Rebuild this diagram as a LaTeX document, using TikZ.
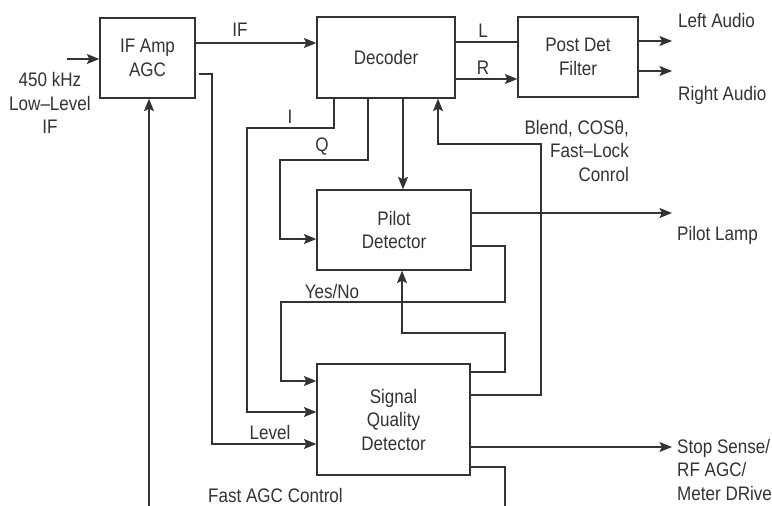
\documentclass[tikz,border=0pt]{standalone}
\usepackage{fontspec}
\setmainfont{Liberation Sans}[FakeStretch=0.87]
\usetikzlibrary{arrows.meta,calc}
\definecolor{ink}{HTML}{333333}
\begin{document}
\begin{tikzpicture}[x=1pt,y=-1pt,
  every node/.style={font=\fontsize{19.6}{23.5}\selectfont, text=ink},
  blk/.style={draw=ink, line width=1.3pt, align=center, inner sep=0pt},
  wire/.style={draw=ink, line width=1.3pt},
  arr/.style={wire, -{Stealth[length=12.5pt,width=10pt,inset=2.5pt]}},
  lbl/.style={inner sep=0pt, align=center}]
\useasboundingbox (0,0) rectangle (772,506);
\fill[white] (0,0) rectangle (772,506);

% blocks
\node[blk, minimum width=95pt, minimum height=80pt] (ifamp) at (147.5,58) {IF Amp\\AGC};
\node[blk, minimum width=138pt, minimum height=81pt] (dec) at (386,57.5) {Decoder};
\node[blk, minimum width=120pt, minimum height=80pt] (pdf) at (578,57) {Post Det\\Filter};
\node[blk, minimum width=154pt, minimum height=80pt] (pilot) at (394,230) {Pilot\\Detector};
\node[blk, minimum width=153pt, minimum height=111pt] (sqd) at (393.5,419.5) {Signal\\Quality\\Detector};

% free ends
\coordinate (inp) at (67,59);
\coordinate (agcin) at (149,506);
\coordinate (la) at (672,41);
\coordinate (ra) at (672,71);
\coordinate (lamp) at (672,213);
\coordinate (stop) at (672,447);
\coordinate (fastagc) at (505,506);

% labels
\node[lbl] (tin) at (50,103) {450 kHz\\Low–Level\\IF};
\node[lbl] (tif) at (240,30) {IF};
\node[lbl] (tl) at (483,31) {L};
\node[lbl] (tr) at (483,68) {R};
\node[lbl, anchor=west] (tla) at (678,20) {Left Audio};
\node[lbl, anchor=west] (tra) at (678,95) {Right Audio};
\node[lbl] (ti) at (290,117) {I};
\node[lbl] (tq) at (322,147) {Q};
\node[lbl, anchor=north east, align=right] (tblend) at (629,120) {Blend, COSθ,\\Fast–Lock\\Conrol};
\node[lbl, anchor=west] (tlamp) at (677,235) {Pilot Lamp};
\node[lbl] (tyes) at (332,291) {Yes/No};
\node[lbl] (tlev) at (270,432) {Level};
\node[lbl, anchor=west] (tfast) at (208,495) {Fast AGC Control};
\node[lbl, anchor=north west, align=left] (tstop) at (677,439) {Stop Sense/\\RF AGC/\\Meter DRive};

% connectors
\draw[arr] (inp) -- (ifamp.west |- inp);
\draw[arr] (agcin) -- (ifamp.south -| agcin);
\draw[arr] (ifamp.east |- 0,43) -- (dec.west |- 0,43);
\draw[arr] ([xshift=3pt]ifamp.east |- 0,74) -| (212,444) -- (sqd.west |- 0,444);
\draw[arr] (dec.south -| 334,0) |- (247,128) |- (sqd.west |- 0,412);
\draw[arr] (dec.south -| 368,0) |- (280,160) |- (pilot.west |- 0,239);
\draw[arr] (dec.south -| 403,0) -- (pilot.north -| 403,0);
\draw[wire] (dec.east |- 0,42) -- (pdf.west |- 0,42);
\draw[arr] (dec.east |- 0,79) -- (pdf.west |- 0,79);
\draw[arr] (pdf.east |- la) -- (la);
\draw[arr] (pdf.east |- ra) -- (ra);
\draw[arr] (sqd.east |- 0,395) -| (541,144) -| (dec.south -| 438,0);
\draw[arr] (pilot.east |- lamp) -- (lamp);
\draw[arr] (pilot.east |- 0,246) -| (505,302) -| (281,381) -- (sqd.west |- 0,381);
\draw[arr] (sqd.east |- 0,372) -| (505,333) -| (pilot.south -| 402,0);
\draw[arr] (sqd.east |- stop) -- (stop);
\draw[wire] (sqd.east |- 0,467) -| (fastagc);
\end{tikzpicture}
\end{document}
